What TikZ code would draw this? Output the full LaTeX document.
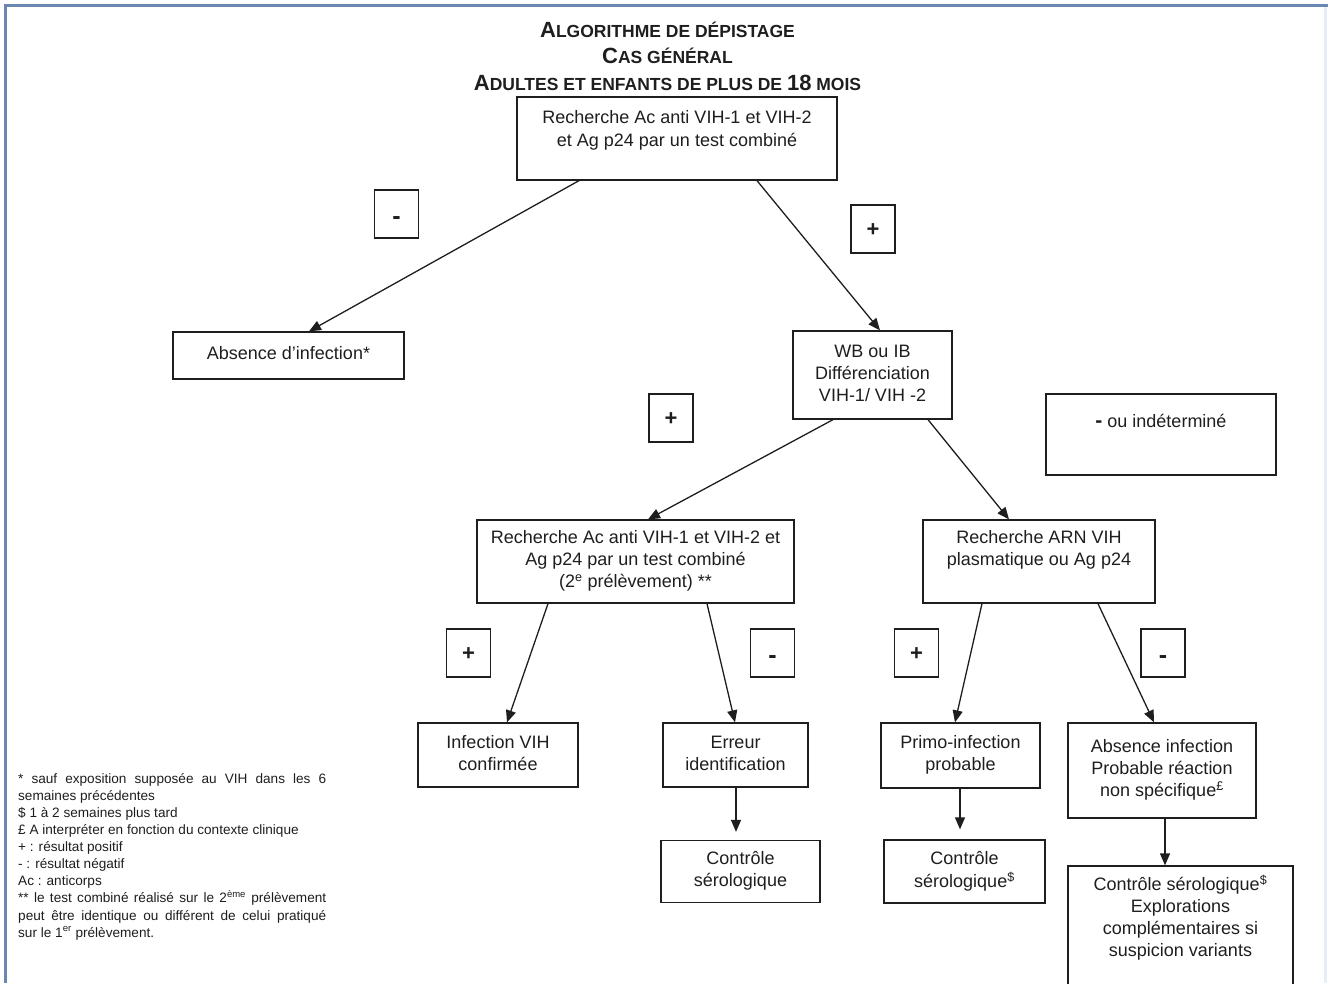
\documentclass[tikz,border=0pt]{standalone}
\usepackage{fontspec}
\setmainfont{Liberation Sans}
\usetikzlibrary{arrows.meta}
\definecolor{frameblue}{RGB}{105,135,175}
\definecolor{framelight}{RGB}{232,238,246}
\definecolor{ink}{RGB}{30,30,30}
\newcommand{\BC}[1]{{\fontsize{22}{26}\selectfont #1}}
\begin{document}
\begin{tikzpicture}[x=1pt,y=-1pt,
  box/.style={draw=ink, line width=1.3pt, inner sep=0pt, align=center,
    font=\fontsize{18}{22}\selectfont, text=ink},
  sign/.style={box, minimum width=44pt, minimum height=48pt, text height=15pt, text depth=0pt,
    font=\fontsize{22}{22}\selectfont\bfseries},
  minus/.style={sign, text height=20pt, font=\fontsize{25}{22}\selectfont\bfseries},
  title/.style={inner sep=0pt, font=\fontsize{17.5}{26}\selectfont\bfseries, text=ink},
  foot/.style={inner sep=0pt, align=left, font=\fontsize{13.6}{17.1}\selectfont, text=ink},
  arr/.style={draw=ink, line width=1.3pt, -{Triangle[length=12pt,width=10pt]}},
]
\useasboundingbox (0,0) rectangle (1328,983);
% frame
\draw[framelight, line width=3pt] (1325.5,5.3) -- (1325.5,983);
\draw[frameblue, line width=2.5pt] (5.3,983) -- (5.3,5.3) -- (1328,5.3);

% title
\node[title, anchor=base] (t1) at (667.5,37) {\BC{A}LGORITHME DE DÉPISTAGE};
\node[title, anchor=base] (t2) at (667.5,63) {\BC{C}AS GÉNÉRAL};
\node[title, anchor=base] (t3) at (667.5,90) {\BC{A}DULTES ET ENFANTS DE PLUS DE \BC{18} MOIS};

% boxes
\node[box, minimum width=320pt, minimum height=83pt] (top) at (677,138.5)
  {\strut Recherche Ac anti VIH-1 et VIH-2\\[1pt]\strut et Ag p24 par un test combiné\\[-6pt]\strut};
\node[box, minimum width=231pt, minimum height=47pt] (absi) at (288.5,355.5)
  {\strut Absence d’infection*};
\node[box, minimum width=159pt, minimum height=88pt] (wb) at (872.5,375)
  {\strut WB ou IB\\\strut Différenciation\\\strut VIH-1/ VIH -2};
\node[box, minimum width=230pt, minimum height=81pt] (indet) at (1161,434.5)
  {\strut{\fontsize{21}{22}\selectfont\bfseries -} ou indéterminé\\\strut};
\node[box, minimum width=317pt, minimum height=83pt] (rech2) at (635.5,561.5)
  {\strut Recherche Ac anti VIH-1 et VIH-2 et\\\strut Ag p24 par un test combiné\\\strut (2\textsuperscript{e} prélèvement) **};
\node[box, minimum width=232pt, minimum height=83pt] (arn) at (1039,561.5)
  {\strut Recherche ARN VIH\\\strut plasmatique ou Ag p24\\\strut};
\node[box, minimum width=160pt, minimum height=64pt] (inf) at (498,755)
  {\strut Infection VIH\\\strut confirmée};
\node[box, minimum width=145pt, minimum height=64pt] (err) at (735.5,755)
  {\strut Erreur\\\strut identification};
\node[box, minimum width=159pt, minimum height=65pt] (primo) at (960.5,755.5)
  {\strut Primo-infection\\\strut probable};
\node[box, minimum width=188pt, minimum height=95pt] (absinf) at (1162,770.5)
  {\strut Absence infection\\\strut Probable réaction\\\strut non spécifique\textsuperscript{£}};
\node[box, minimum width=159pt, minimum height=62pt] (ctrl1) at (740.5,871.5)
  {\strut Contrôle\\\strut sérologique};
\node[box, minimum width=161pt, minimum height=63pt] (ctrl2) at (964.5,871.5)
  {\strut Contrôle\\\strut sérologique\textsuperscript{\$}};
\node[box, minimum width=225pt, minimum height=150pt] (ctrl3) at (1180.5,941)
  {\strut Contrôle sérologique\textsuperscript{\$}\\\strut Explorations\\\strut complémentaires si\\\strut suspicion variants\\\strut\\\strut};

% sign boxes
\node[minus] (s1) at (396.5,214) {-};
\node[sign] (s2) at (873,229) {+};
\node[sign] (s3) at (671,418) {+};
\node[sign] (s4) at (468.5,653) {+};
\node[minus] (s5) at (772.5,653) {-};
\node[sign] (s6) at (916.5,653) {+};
\node[minus] (s7) at (1163,653) {-};

% connectors
\draw[arr] (579,0 |- top.south) -- (309,0 |- absi.north);
\draw[arr] (757,0 |- top.south) -- (880,0 |- wb.north);
\draw[arr] (833,0 |- wb.south) -- (648,0 |- rech2.north);
\draw[arr] (928,0 |- wb.south) -- (1009,0 |- arn.north);
\draw[arr] (548,0 |- rech2.south) -- (507,0 |- inf.north);
\draw[arr] (707,0 |- rech2.south) -- (735,0 |- err.north);
\draw[arr] (982,0 |- arn.south) -- (955,0 |- primo.north);
\draw[arr] (1098,0 |- arn.south) -- (1154,0 |- absinf.north);
\draw[arr, shorten >=8pt] (736,0 |- err.south) -- (736,0 |- ctrl1.north);
\draw[arr, shorten >=10pt] (960,0 |- primo.south) -- (960,0 |- ctrl2.north);
\draw[arr] (1165,0 |- absinf.south) -- (1165,0 |- ctrl3.north);

% footnotes
\node[foot, anchor=north west] (notes) at (18,773) {%
\makebox[308pt][s]{* sauf exposition supposée au VIH dans les 6}\\
semaines précédentes\\
\$ 1 à 2 semaines plus tard\\
£ A interpréter en fonction du contexte clinique\\
+ : résultat positif\\
- : résultat négatif\\
Ac : anticorps\\
\makebox[308pt][s]{** le test combiné réalisé sur le 2\textsuperscript{ème} prélèvement}\\
\makebox[308pt][s]{peut être identique ou différent de celui pratiqué}\\
sur le 1\textsuperscript{er} prélèvement.};
\end{tikzpicture}
\end{document}
